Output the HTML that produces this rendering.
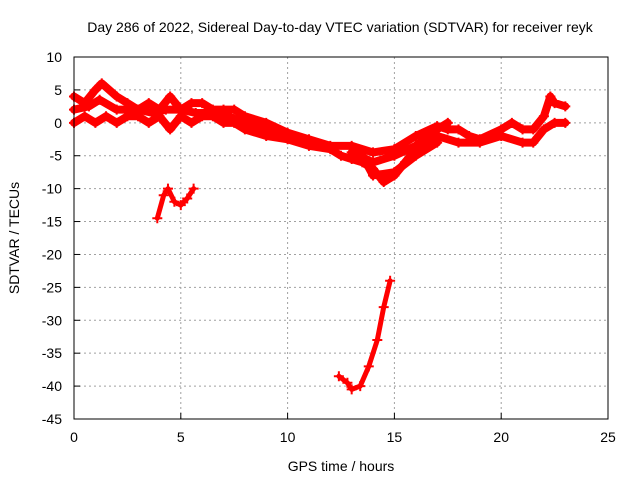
<!DOCTYPE html>
<html><head><meta charset="utf-8"><style>
body{margin:0;background:#fff}
svg text{font-family:"Liberation Sans",sans-serif;font-size:14px;fill:#000}
</style></head><body>
<svg id="chart" width="640" height="480" xmlns="http://www.w3.org/2000/svg">
<text x="340" y="32" text-anchor="middle">Day 286 of 2022, Sidereal Day-to-day VTEC variation (SDTVAR) for receiver reyk</text>
<g id="grid"></g>
<g id="ticks"></g>
<g id="series"></g>
<rect x="74" y="57" width="534" height="362" fill="none" stroke="#000" stroke-width="1"/>
<text x="341" y="471" text-anchor="middle">GPS time / hours</text>
<text transform="translate(19,238) rotate(-90)" text-anchor="middle">SDTVAR / TECUs</text>
</svg>
<script>
const xTicks=[0,5,10,15,20,25];
const yTicks=[10,5,0,-5,-10,-15,-20,-25,-30,-35,-40,-45];
const trackUpper=[[0,4],[0.5,3],[1,5],[1.3,6],[2,4],[2.5,3],[3,2],[3.5,3],[4,2],[4.5,4],[5,2],[5.5,3],[6,3],[6.5,2],[7,2],[7.5,2],[8,1],[9,0],[10,-1.5],[11,-2.5],[12,-3.5],[13,-3.5],[14,-4.5],[15,-4],[16,-2],[17,-0.5],[17.5,-1],[18,-1],[18.5,-2],[19,-2.5],[20,-1],[20.5,0],[21,-1],[21.5,-1],[22,1],[22.3,4],[22.5,3],[23,2.5]];
const trackMidEarly=[[0,2],[0.7,2.5],[1.2,3.5],[2,2],[3,2],[3.7,1.5],[4.3,2],[5,2],[5.7,1.5],[6.5,1.5],[7.2,1],[8,0],[9,-1],[10,-2],[11,-3],[12,-3.8]];
const trackLower=[[0,0],[0.5,1],[1,0],[1.5,1],[2,0],[2.5,1],[3,1],[3.5,0],[4,1],[4.5,-1],[5,1],[5.5,0],[6,1],[6.5,1],[7,0],[7.5,0],[8,-1],[9,-2],[10,-2.5],[11,-3.5],[12,-4],[12.5,-5],[13,-5.5],[13.5,-6],[14,-7],[14.5,-9],[15,-8],[15.5,-6],[16,-4],[16.5,-3],[17,-2],[18,-3],[19,-3],[20,-2],[21,-3],[21.5,-3],[22,-1],[22.5,0],[23,0]];
const trackMid1=[[13,-4.5],[14,-6],[15,-5],[16,-3.5],[17,-1],[17.5,0]];
const trackMid2=[[13.5,-5],[14,-8],[15,-7.5],[16,-5],[17,-3]];
const segmentB=[[3.9,-14.5],[4.2,-11],[4.4,-10],[4.7,-12],[5,-12.5],[5.3,-11.5],[5.6,-10]];
const segmentC=[[12.4,-38.5],[12.8,-39.5],[13,-40.5],[13.4,-40],[13.8,-37],[14.2,-33],[14.5,-28],[14.8,-24]];
const X0=74,X1=608,Y0=57,Y1=419;
const xs=h=>X0+(h-0)/(25-0)*(X1-X0);
const ys=v=>Y0+(10-v)/(10-(-45))*(Y1-Y0);
const NS="http://www.w3.org/2000/svg";
function mk(tag,attrs,parent){const e=document.createElementNS(NS,tag);for(const k in attrs)e.setAttribute(k,attrs[k]);parent.appendChild(e);return e;}
const grid=document.getElementById('grid'),ticks=document.getElementById('ticks'),ser=document.getElementById('series');
xTicks.forEach(t=>{
  const x=xs(t);
  if(t>0&&t<25){const l=mk('line',{x1:x,x2:x,y1:Y0,y2:Y1,stroke:'#a0a0a0','stroke-dasharray':'2,3'},grid);
  
  }
  const tk=mk('line',{x1:x,x2:x,y1:Y1,y2:Y1-6,stroke:'#000'},ticks);
  
  
  const tx=mk('text',{x:x,y:Y1+23,'text-anchor':'middle'},ticks);tx.textContent=t;
  
  
});
yTicks.forEach(t=>{
  const y=ys(t);
  if(t<10&&t>-45){const l=mk('line',{x1:X0,x2:X1,y1:y,y2:y,stroke:'#a0a0a0','stroke-dasharray':'2,3'},grid);
  
  }
  const tk=mk('line',{x1:X0,x2:X0+6,y1:y,y2:y,stroke:'#000'},ticks);
  
  
  const tx=mk('text',{x:X0-12,y:y+5,'text-anchor':'end'},ticks);tx.textContent=t;
  
  
});
[trackUpper,trackMidEarly,trackLower,trackMid1,trackMid2,segmentB,segmentC].forEach((tr,i)=>{
  const p=mk('polyline',{points:tr.map(d=>xs(d[0])+','+ys(d[1])).join(' '),fill:'none',stroke:'#ff0000','stroke-width':(i<5?8:5),'stroke-linejoin':'round','stroke-linecap':'round'},ser);
  
  
  tr.forEach(d=>{
    const x=xs(d[0]),y=ys(d[1]);
    const m=mk('path',{d:`M${x-5},${y}H${x+5}M${x},${y-5}V${y+5}`,stroke:'#ff0000','stroke-width':2},ser);
    
    
  });
});
</script>
</body></html>
